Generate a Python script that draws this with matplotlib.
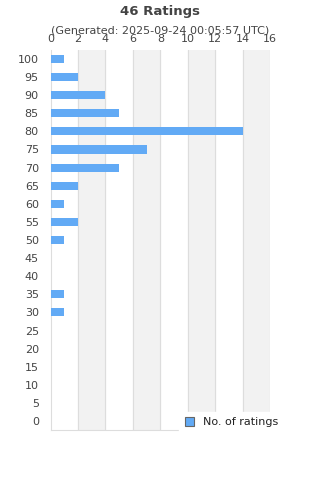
import numpy as np
import matplotlib.pyplot as plt
from matplotlib.patches import Patch

# ratings data
ratings = [0, 5, 10, 15, 20, 25, 30, 35, 40, 45, 50, 55, 60, 65, 70, 75, 80, 85, 90, 95, 100]
counts = [0, 0, 0, 0, 0, 0, 1, 1, 0, 0, 1, 2, 1, 2, 5, 7, 14, 5, 4, 2, 1]
x_ticks = [0, 2, 4, 6, 8, 10, 12, 14, 16]

bar_color = '#62aaf5'
text_color = '#444444'

fig = plt.figure(figsize=(3.2, 4.8), dpi=100)
ax = fig.add_axes([0.158, 0.104, 0.686, 0.792])

pos = np.arange(len(ratings))
ax.barh(pos, counts, height=0.45, color=bar_color, zorder=3)

# alternating bands
for i in range(0, len(x_ticks) - 1):
    if i % 2 == 1:
        ax.axvspan(x_ticks[i], x_ticks[i + 1], color='#f2f2f2', zorder=0)
for x in x_ticks[1:]:
    ax.axvline(x, color='#dddddd', lw=0.8, zorder=1)

ax.set_xlim(0, 16)
ax.set_ylim(-0.5, len(ratings) - 0.5)
ax.set_yticks(pos)
ax.set_yticklabels([str(r) for r in ratings])
ax.set_xticks(x_ticks)
ax.xaxis.tick_top()
ax.tick_params(axis='both', length=0, labelsize=8, colors=text_color)
ax.tick_params(axis='y', pad=8.5)
ax.tick_params(axis='x', pad=4.5)
for s in ['right', 'bottom', 'left', 'top']:
    ax.spines[s].set_color('#dddddd')
ax.spines['top'].set_visible(False)
ax.spines['right'].set_visible(False)

fig.text(0.5, 0.977, '46 Ratings', ha='center', va='center', fontsize=9.5,
         fontweight='bold', color=text_color)
fig.text(0.5, 0.937, '(Generated: 2025-09-24 00:05:57 UTC)', ha='center', va='center',
         fontsize=8, color=text_color)

handle = Patch(facecolor=bar_color, edgecolor='#666666', linewidth=0.8)
leg = fig.legend([handle], ['No. of ratings'], loc='center left',
                 bbox_to_anchor=(0.543, 0.12), frameon=True, fontsize=8,
                 handlelength=0.8, handleheight=0.8, handletextpad=0.8,
                 borderpad=0.5, labelcolor='#222222')
leg.get_frame().set_facecolor('white')
leg.get_frame().set_edgecolor('white')
leg.get_frame().set_alpha(1)
leg.get_frame().set_boxstyle('square', pad=0)

fig.savefig('out.png', dpi=100)
